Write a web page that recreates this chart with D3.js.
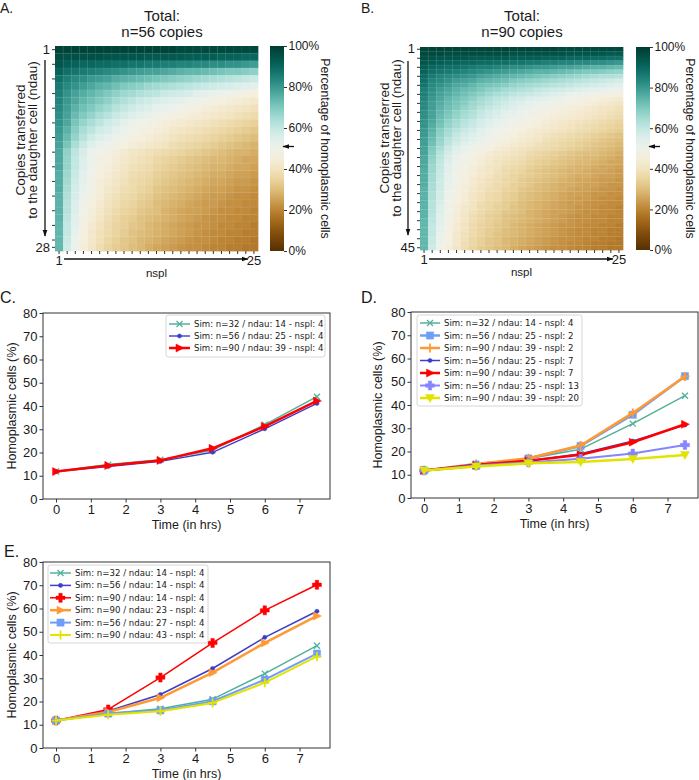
<!DOCTYPE html>
<html><head><meta charset="utf-8">
<script src="https://cdn.jsdelivr.net/npm/d3@7"></script>
<style>
body{margin:0;background:#fff}
svg{display:block}
text{font-family:"Liberation Sans",Arial,sans-serif;fill:#1a1a1a}
.leg text{font-family:"DejaVu Sans",sans-serif}
</style>
</head><body>
<svg id="c" width="699" height="780"></svg>
<script>
// ---------------- DATA ----------------
const heatTitlesA = ["Total:", "n=56 copies"];
const heatTitlesB = ["Total:", "n=90 copies"];
const colorbarTicks = [0, 20, 40, 60, 80, 100];
const yLabelLines = ["Copies transferred", "to the daughter cell (ndau)"];
const cbLabel = "Percentage of homoplasmic cells";

// Panel A: 28 rows (ndau 1..28) x 25 cols (nspl 1..25), % homoplasmic
const heatA = [
[98,98,98,98,98,98,98,98,98,98,98,98,98,98,98,97,97,97,97,97,97,97,97,97,97],
[96,95,95,95,95,95,94,94,94,94,94,93,93,93,93,93,92,92,92,92,91,91,91,90,90],
[94,92,91,90,90,89,89,88,88,87,87,86,86,85,85,84,84,83,83,82,82,81,81,80,79],
[91,88,87,86,85,84,83,82,81,80,79,78,78,77,76,75,74,74,73,72,71,70,70,69,68],
[88,85,83,82,80,79,78,76,75,74,73,72,71,70,69,68,67,66,65,64,63,62,61,60,59],
[86,83,81,79,77,75,74,72,70,69,68,66,65,64,63,62,61,60,59,58,57,56,55,54,53],
[85,81,78,76,74,72,70,68,66,65,63,62,61,59,58,57,56,54,53,52,51,50,48,47,46],
[84,80,77,74,72,70,68,65,63,61,59,58,56,55,54,53,51,50,48,47,46,45,44,43,42],
[83,79,75,72,70,67,65,62,60,58,56,55,53,52,50,49,48,46,45,44,43,42,41,40,39],
[82,78,73,70,67,64,62,59,57,55,53,52,50,49,47,46,45,44,43,42,41,40,39,38,37],
[81,77,71,67,64,61,58,56,53,51,49,48,47,45,44,43,42,41,40,39,38,37,36,35,34],
[80,75,69,64,61,58,56,53,51,49,48,46,45,44,42,41,40,39,38,37,36,35,34,33,32],
[79,73,67,62,58,55,53,51,49,47,46,44,43,42,40,39,38,37,36,35,34,33,32,31,30],
[78,71,64,59,55,52,50,48,46,45,43,42,41,40,38,37,36,35,34,33,32,31,30,29,28],
[77,68,61,56,51,49,47,45,43,41,40,39,38,37,36,35,34,33,32,31,30,29,28,28,27],
[77,67,60,55,51,48,46,44,42,40,39,38,36,35,34,33,32,31,30,29,29,28,27,26,26],
[77,67,60,55,50,47,45,43,41,39,38,37,35,34,33,32,31,30,29,28,28,27,26,26,25],
[76,66,59,54,49,46,44,42,40,38,37,36,34,33,32,31,30,29,28,27,27,26,25,25,24],
[76,65,58,53,48,45,43,41,39,37,36,35,33,32,31,30,29,28,27,26,26,25,24,24,23],
[76,64,57,52,48,45,42,40,38,37,35,34,32,31,30,29,28,27,26,25,25,24,23,23,22],
[75,63,56,51,47,44,41,39,37,36,34,33,31,30,29,28,27,26,25,24,24,23,22,22,21],
[75,62,55,50,46,43,40,38,36,35,33,32,30,29,28,27,26,25,24,24,23,22,22,21,21],
[75,62,55,49,45,42,39,37,35,34,32,31,30,28,27,26,25,25,24,23,22,22,21,21,20],
[75,61,54,48,44,41,38,36,34,33,31,30,29,28,27,26,25,24,23,22,22,21,21,20,20],
[74,60,53,47,43,40,37,35,34,32,31,29,28,27,26,25,24,23,23,22,21,21,20,20,19],
[74,60,52,47,42,39,37,35,33,31,30,29,28,27,26,25,24,23,22,21,21,20,20,19,19],
[74,59,51,46,42,39,36,34,32,31,29,28,27,26,25,24,23,22,22,21,20,20,19,19,18],
[74,58,50,45,41,38,35,33,32,30,29,27,26,25,24,23,22,22,21,20,20,19,19,18,18]
];

// Panel B: 45 rows (ndau 1..45) x 25 cols (nspl 1..25)
const heatB = [
[98,98,98,98,98,98,98,98,98,98,98,98,98,98,98,98,98,97,97,97,97,97,97,97,97],
[97,97,97,96,96,96,96,96,96,96,96,95,95,95,95,95,95,95,94,94,94,94,94,93,93],
[96,95,94,94,94,94,93,93,93,93,93,92,92,92,92,91,91,91,90,90,90,89,89,88,88],
[94,93,92,91,91,90,90,89,89,88,88,87,87,86,86,85,85,84,84,83,83,82,82,81,80],
[92,90,89,88,88,87,86,85,85,84,83,82,82,81,80,80,79,78,78,77,76,75,75,74,73],
[91,88,87,86,85,84,83,82,81,80,79,78,77,76,75,75,74,73,72,71,70,70,69,68,67],
[89,86,84,83,82,81,80,78,77,76,75,74,73,72,71,70,69,68,67,66,65,64,63,63,62],
[88,84,83,81,79,78,77,75,74,73,72,70,69,68,67,66,65,64,63,62,61,60,59,58,57],
[87,83,81,79,77,76,74,72,71,70,69,67,66,65,64,63,62,61,60,59,58,57,56,55,54],
[85,82,79,77,75,73,72,70,68,67,65,64,63,62,60,59,58,57,56,55,54,53,52,51,50],
[85,81,78,76,74,72,70,68,66,64,63,61,60,59,58,56,55,54,52,51,50,49,48,47,46],
[84,80,77,74,72,70,68,65,63,61,60,58,57,55,54,53,52,50,49,48,47,46,45,44,43],
[83,79,76,73,71,69,66,64,62,60,58,56,55,53,52,51,50,48,47,46,45,44,43,42,41],
[83,79,75,72,70,67,65,62,60,58,56,55,53,52,50,49,48,46,45,44,43,42,41,40,39],
[82,78,74,71,68,65,63,60,58,56,54,53,51,50,48,47,46,45,44,43,42,41,40,39,38],
[82,78,73,70,67,64,62,59,57,55,53,51,50,49,47,46,45,44,43,42,41,40,39,38,37],
[81,77,72,68,65,62,60,57,55,53,51,50,48,47,46,44,43,42,41,40,39,38,37,36,35],
[81,76,71,67,64,61,59,56,54,52,50,49,47,46,45,43,42,41,40,39,38,37,36,35,34],
[80,75,69,65,62,59,57,54,52,50,49,47,46,44,43,42,41,40,39,38,37,36,35,34,33],
[80,74,68,64,60,57,55,53,51,49,47,46,44,43,42,40,39,38,37,36,35,34,33,32,31],
[79,73,67,62,59,56,54,52,50,48,46,45,43,42,41,39,38,37,36,35,34,33,32,31,30],
[79,72,66,61,57,54,52,50,48,46,45,43,42,41,39,38,37,36,35,34,33,32,31,30,29],
[78,70,64,59,55,52,50,48,46,44,43,41,40,39,38,37,36,35,34,33,32,31,30,29,28],
[78,69,62,57,53,50,48,46,44,42,41,40,39,37,36,35,34,33,32,31,30,30,29,28,27],
[77,68,61,56,52,49,47,45,43,41,40,39,38,36,35,34,33,32,31,30,29,29,28,27,26],
[77,67,60,55,51,48,46,44,42,40,39,38,37,35,34,33,32,31,30,29,29,28,27,26,26],
[77,66,60,54,50,48,45,43,41,40,38,37,36,34,33,32,31,30,29,28,28,27,26,26,25],
[76,66,59,54,50,47,45,42,41,39,37,36,35,33,32,31,30,29,28,28,27,26,26,25,24],
[76,65,59,53,49,46,44,42,40,38,37,35,34,33,32,31,30,29,28,27,27,26,25,25,24],
[76,65,58,53,49,46,43,41,39,38,36,35,33,32,31,30,29,28,27,26,26,25,24,24,23],
[76,64,58,52,48,45,43,40,39,37,36,34,33,32,30,29,28,27,27,26,25,25,24,23,23],
[75,64,58,52,48,45,42,40,38,37,35,34,32,31,30,29,28,27,26,25,25,24,23,23,22],
[75,63,57,51,47,44,41,39,37,36,34,33,31,30,29,28,27,26,25,25,24,23,23,22,22],
[75,63,57,51,47,44,41,39,37,36,34,33,31,30,29,28,27,26,25,24,24,23,22,22,21],
[75,62,56,50,46,43,40,38,36,35,33,32,30,29,28,27,26,25,24,24,23,22,22,21,21],
[75,62,55,50,45,42,40,37,36,34,33,31,30,29,28,27,26,25,24,23,23,22,21,21,20],
[75,62,55,49,45,42,39,37,35,34,32,31,30,28,27,26,25,25,24,23,22,22,21,21,20],
[75,61,54,48,44,41,38,36,34,33,31,30,29,28,27,26,25,24,23,22,22,21,21,20,20],
[74,61,54,48,44,41,38,36,34,33,31,30,29,28,27,26,25,24,23,22,22,21,21,20,20],
[74,60,53,47,43,40,37,35,34,32,31,29,28,27,26,25,24,23,23,22,21,21,20,20,19],
[74,60,53,47,43,40,37,35,33,32,30,29,28,27,26,25,24,23,22,21,21,20,20,19,19],
[74,60,52,47,42,39,37,35,33,31,30,29,28,27,26,25,24,23,22,21,21,20,20,19,19],
[74,59,51,46,42,39,36,34,32,31,29,28,27,26,25,24,23,22,22,21,20,20,19,19,18],
[74,59,51,46,42,38,36,34,32,31,29,28,27,26,25,24,23,22,21,21,20,19,19,18,18],
[74,58,50,45,41,38,35,33,32,30,29,27,26,25,24,23,22,22,21,20,20,19,19,18,18]
];

// Line panels
const timeHrs = [0, 1.5, 3, 4.5, 6, 7.5];
const xTicks = [0, 1, 2, 3, 4, 5, 6, 7];
const yTicks = [0, 10, 20, 30, 40, 50, 60, 70, 80];

const cLabels = ["Sim: n=32 / ndau: 14 - nspl: 4", "Sim: n=56 / ndau: 25 - nspl: 4", "Sim: n=90 / ndau: 39 - nspl: 4"];
const c_n32 = [11.8, 14.8, 16.9, 21.0, 32.0, 44.0];
const c_n56 = [11.8, 14.0, 16.2, 20.1, 30.2, 41.1];
const c_n90 = [11.8, 14.4, 16.6, 21.8, 31.2, 42.2];

const dLabels = ["Sim: n=32 / ndau: 14 - nspl: 4", "Sim: n=56 / ndau: 25 - nspl: 2", "Sim: n=90 / ndau: 39 - nspl: 2",
  "Sim: n=56 / ndau: 25 - nspl: 7", "Sim: n=90 / ndau: 39 - nspl: 7", "Sim: n=56 / ndau: 25 - nspl: 13", "Sim: n=90 / ndau: 39 - nspl: 20"];
const d_n32_14_4 = [11.8, 14.8, 16.9, 21.0, 32.0, 44.0];
const d_n56_25_2 = [11.8, 13.8, 17.0, 22.4, 35.8, 52.4];
const d_n90_39_2 = [11.8, 14.6, 17.1, 22.6, 36.6, 52.3];
const d_n56_25_7 = [11.8, 14.5, 15.9, 19.0, 24.5, 31.4];
const d_n90_39_7 = [11.8, 14.2, 16.0, 18.6, 24.0, 31.7];
const d_n56_25_13 = [11.8, 14.0, 15.3, 16.9, 19.1, 22.8];
const d_n90_39_20 = [11.8, 13.5, 14.9, 15.5, 16.8, 18.5];

const eLabels = ["Sim: n=32 / ndau: 14 - nspl: 4", "Sim: n=56 / ndau: 14 - nspl: 4", "Sim: n=90 / ndau: 14 - nspl: 4",
  "Sim: n=90 / ndau: 23 - nspl: 4", "Sim: n=56 / ndau: 27 - nspl: 4", "Sim: n=90 / ndau: 43 - nspl: 4"];
const e_n32_14 = [11.8, 14.8, 16.9, 21.0, 32.0, 44.0];
const e_n56_14 = [11.8, 15.9, 23.0, 34.2, 47.6, 58.8];
const e_n90_14 = [11.8, 16.6, 30.3, 45.2, 59.2, 70.2];
const e_n90_23 = [11.8, 15.5, 21.6, 32.4, 45.2, 56.8];
const e_n56_27 = [11.8, 14.8, 16.2, 20.1, 29.4, 40.6];
const e_n90_43 = [11.8, 14.3, 15.8, 19.4, 28.1, 39.4];

// ---------------- STYLES ----------------
const GREEN = "#52b09a", BLUE = "#3d3dcc", RED = "#ff0000", LBLUE = "#6f9ef8",
      ORANGE = "#ff9933", LAV = "#8585ff", YELLOW = "#e3e300";
const FONT = '"Liberation Sans",Arial,sans-serif';

const svg = d3.select("#c");
const defs = svg.append("defs");
defs.append("marker").attr("id", "ah").attr("viewBox", "0 0 10 10").attr("refX", 9).attr("refY", 5)
  .attr("markerWidth", 7).attr("markerHeight", 7).attr("markerUnits", "userSpaceOnUse").attr("orient", "auto")
  .append("path").attr("d", "M0,1.5L10,5L0,8.5Z").attr("fill", "#111");

const brbg = d3.scaleSequential(d3.interpolateBrBG).domain([0, 100]);

function drawHeat(data, titles, L) {
  const g = svg.append("g");
  const nR = data.length, nC = data[0].length;
  const rows = d3.range(1, nR + 1), cols = d3.range(1, nC + 1);
  const x = d3.scaleBand().domain(cols).range([L.x0, L.x1]);
  const y = d3.scaleBand().domain(rows).range([L.y0, L.y1]);
  const cells = [];
  data.forEach((row, ri) => row.forEach((v, ci) => cells.push({r: ri + 1, c: ci + 1, v})));
  g.append("g").selectAll("rect").data(cells).join("rect")
    .attr("x", d => x(d.c)).attr("y", d => y(d.r))
    .attr("width", x.bandwidth() + 0.35).attr("height", y.bandwidth() + 0.35)
    .attr("fill", d => brbg(d.v));
  g.append("g").selectAll("line.v").data(cols.slice(1)).join("line")
    .attr("x1", d => x(d)).attr("x2", d => x(d)).attr("y1", L.y0).attr("y2", L.y1)
    .attr("stroke", "#fff").attr("stroke-opacity", 0.12).attr("stroke-width", 0.6);
  g.append("g").selectAll("line.h").data(rows.slice(1)).join("line")
    .attr("y1", d => y(d)).attr("y2", d => y(d)).attr("x1", L.x0).attr("x2", L.x1)
    .attr("stroke", "#fff").attr("stroke-opacity", 0.12).attr("stroke-width", 0.6);

  const yTickVals = rows.filter(r => r % 2 === 1 || r === nR);
  const ay = g.append("g").attr("transform", `translate(${L.x0},0)`)
    .call(d3.axisLeft(y).tickValues(yTickVals).tickSize(3).tickPadding(2)
      .tickFormat(d => (d === 1 || d === nR) ? d : ""));
  ay.select(".domain").remove();
  ay.selectAll("line").attr("stroke", "#333");
  ay.selectAll("text").attr("font-size", 13).attr("fill", "#1a1a1a").style("font-family", FONT);

  const ax = g.append("g").attr("transform", `translate(0,${L.y1})`)
    .call(d3.axisBottom(x).tickValues(cols).tickSize(3).tickPadding(2)
      .tickFormat(d => (d === 1 || d === nC) ? d : ""));
  ax.select(".domain").remove();
  ax.selectAll("line").attr("stroke", "#333");
  ax.selectAll("text").attr("font-size", 13).attr("fill", "#1a1a1a").style("font-family", FONT);

  g.append("line").attr("x1", L.vArrowX).attr("x2", L.vArrowX).attr("y1", L.y0 + 14).attr("y2", L.y1 - 15)
    .attr("stroke", "#111").attr("stroke-width", 1.3).attr("marker-end", "url(#ah)");
  g.append("line").attr("y1", L.hArrowY).attr("y2", L.hArrowY).attr("x1", x(1) + x.bandwidth() / 2 + 5).attr("x2", x(nC) - 2)
    .attr("stroke", "#111").attr("stroke-width", 1.3).attr("marker-end", "url(#ah)");

  g.append("text").attr("x", (L.x0 + L.x1) / 2).attr("y", L.y1 + 26).attr("text-anchor", "middle")
    .attr("font-size", 11.5).text("nspl");

  yLabelLines.forEach((t, i) => {
    g.append("text").attr("transform", `translate(${L.ylabX + i * 12.5},${L.ylabY}) rotate(-90)`)
      .attr("text-anchor", "middle").attr("dy", "0.35em").attr("font-size", 13.5).text(t);
  });

  titles.forEach((t, i) => {
    g.append("text").attr("x", L.titleX).attr("y", 20.5 + i * 16).attr("text-anchor", "middle")
      .attr("font-size", 15).text(t);
  });

  const gid = "grad" + L.id;
  const grad = defs.append("linearGradient").attr("id", gid).attr("x1", 0).attr("x2", 0).attr("y1", 1).attr("y2", 0);
  d3.range(0, 101, 5).forEach(p => grad.append("stop").attr("offset", p + "%").attr("stop-color", brbg(p)));
  g.append("rect").attr("x", L.cbX).attr("y", L.y0).attr("width", 14).attr("height", L.y1 - L.y0).attr("fill", `url(#${gid})`);
  const cy = d3.scaleLinear().domain([0, 100]).range([L.y1, L.y0]);
  const ac = g.append("g").attr("transform", `translate(${L.cbX + 14},0)`)
    .call(d3.axisRight(cy).tickValues(colorbarTicks).tickSize(3).tickPadding(1.5).tickFormat(d => d + "%"));
  ac.select(".domain").remove();
  ac.selectAll("line").attr("stroke", "#333");
  ac.selectAll("text").attr("font-size", 12).attr("fill", "#1a1a1a").style("font-family", FONT);
  g.append("line").attr("x1", L.cbX + 24).attr("x2", L.cbX + 13).attr("y1", cy(50) - 2).attr("y2", cy(50) - 2)
    .attr("stroke", "#111").attr("stroke-width", 1.3).attr("marker-end", "url(#ah)");
  g.append("text").attr("transform", `translate(${L.cbLabX},${(L.y0 + L.y1) / 2}) rotate(90)`)
    .attr("text-anchor", "middle").attr("dy", "0.35em").attr("font-size", 12.3).text(cbLabel);

  g.append("text").attr("x", L.panelX).attr("y", 13).attr("font-size", 14).text(L.panel);
}

drawHeat(heatA, heatTitlesA, {id: "A", panel: "A.", panelX: 0, x0: 55, x1: 258, y0: 46, y1: 251,
  vArrowX: 45, hArrowY: 259, ylabX: 20, ylabY: 140, titleX: 162, cbX: 270, cbLabX: 325});
drawHeat(heatB, heatTitlesB, {id: "B", panel: "B.", panelX: 361, x0: 420, x1: 623, y0: 47, y1: 250,
  vArrowX: 408, hArrowY: 259, ylabX: 384, ylabY: 138, titleX: 522, cbX: 636, cbLabX: 690});

function markerPath(type) {
  switch (type) {
    case "x": return {d: "M-3,-3L3,3M-3,3L3,-3", fill: false, sw: 1.3};
    case ".": return {d: "M2.1,0A2.1,2.1 0 1,1 -2.1,0A2.1,2.1 0 1,1 2.1,0Z", fill: true};
    case ">": return {d: "M4.5,0L-3.5,-4L-3.5,4Z", fill: true};
    case "v": return {d: "M0,4.5L-4.5,-3.5L4.5,-3.5Z", fill: true};
    case "s": return {d: "M-3.6,-3.6H3.6V3.6H-3.6Z", fill: true};
    case "+": return {d: "M-4.5,0H4.5M0,-4.5V4.5", fill: false, sw: 1.8};
    case "P": return {d: "M-1.7,-4.5H1.7V-1.7H4.5V1.7H1.7V4.5H-1.7V1.7H-4.5V-1.7H-1.7Z", fill: true};
  }
}
function addMarker(g, type, color, px, py) {
  const m = markerPath(type);
  g.append("path").attr("d", m.d).attr("transform", `translate(${px},${py})`)
    .attr("fill", m.fill ? color : "none").attr("stroke", color).attr("stroke-width", m.fill ? 0.5 : m.sw);
}

function drawLines(P) {
  const g = svg.append("g");
  const x = d3.scaleLinear().domain([-0.375, 7.875]).range([P.x0, P.x1]);
  const y = d3.scaleLinear().domain([0, 80]).range([P.y1, P.y0]);
  const line = d3.line().x((d, i) => x(timeHrs[i])).y(d => y(d));
  P.series.forEach(s => {
    g.append("path").attr("d", line(s.values)).attr("fill", "none").attr("stroke", s.color)
      .attr("stroke-width", s.lw).attr("stroke-linejoin", "round");
    s.values.forEach((v, i) => addMarker(g, s.marker, s.color, x(timeHrs[i]), y(v)));
  });
  g.append("rect").attr("x", P.x0).attr("y", P.y0).attr("width", P.x1 - P.x0).attr("height", P.y1 - P.y0)
    .attr("fill", "none").attr("stroke", "#333").attr("stroke-width", 1);
  const ax = g.append("g").attr("transform", `translate(0,${P.y1})`)
    .call(d3.axisBottom(x).tickValues(xTicks).tickSize(3.5).tickPadding(2));
  const ay = g.append("g").attr("transform", `translate(${P.x0},0)`)
    .call(d3.axisLeft(y).tickValues(yTicks).tickSize(3.5).tickPadding(2));
  [ax, ay].forEach(a => {
    a.select(".domain").remove();
    a.selectAll("line").attr("stroke", "#333");
    a.selectAll("text").attr("font-size", 13).attr("fill", "#1a1a1a").style("font-family", FONT);
  });
  g.append("text").attr("x", (P.x0 + P.x1) / 2).attr("y", P.xlabY).attr("text-anchor", "middle")
    .attr("font-size", 12.5).text("Time (in hrs)");
  g.append("text").attr("transform", `translate(${P.ylabX},${(P.y0 + P.y1) / 2}) rotate(-90)`)
    .attr("text-anchor", "middle").attr("dy", "0.35em").attr("font-size", 12.5).text("Homoplasmic cells (%)");

  const L = P.legend;
  const lg = g.append("g").attr("class", "leg");
  lg.append("rect").attr("x", L.x).attr("y", L.y).attr("width", L.w).attr("height", L.h).attr("rx", 2.5)
    .attr("fill", "#fff").attr("fill-opacity", 0.85).attr("stroke", "#d6d6d6").attr("stroke-width", 1);
  P.series.forEach((s, i) => {
    const yy = L.y0 + i * L.dy;
    lg.append("line").attr("x1", L.lx0).attr("x2", L.lx1).attr("y1", yy).attr("y2", yy)
      .attr("stroke", s.color).attr("stroke-width", s.lw);
    addMarker(lg, s.marker, s.color, (L.lx0 + L.lx1) / 2, yy);
    lg.append("text").attr("x", L.tx).attr("y", yy).attr("dy", "0.35em").attr("font-size", 8.6).text(s.label);
  });
  g.append("text").attr("x", P.panelX).attr("y", P.panelY).attr("font-size", 16).text(P.panel);
}

drawLines({panel: "C.", panelX: 0, panelY: 303, x0: 43, x1: 330, y0: 313, y1: 499, xlabY: 529, ylabX: 12,
  series: [
    {label: cLabels[0], values: c_n32, color: GREEN, marker: "x", lw: 1.5},
    {label: cLabels[1], values: c_n56, color: BLUE, marker: ".", lw: 1.4},
    {label: cLabels[2], values: c_n90, color: RED, marker: ">", lw: 2.5}],
  legend: {x: 166, y: 315, w: 159, h: 42, y0: 324, dy: 12, lx0: 169, lx1: 190, tx: 194}});

drawLines({panel: "D.", panelX: 361, panelY: 303, x0: 411, x1: 698, y0: 312, y1: 498, xlabY: 528, ylabX: 378,
  series: [
    {label: dLabels[0], values: d_n32_14_4, color: GREEN, marker: "x", lw: 1.5},
    {label: dLabels[1], values: d_n56_25_2, color: LBLUE, marker: "s", lw: 2.5},
    {label: dLabels[2], values: d_n90_39_2, color: ORANGE, marker: "+", lw: 2.5},
    {label: dLabels[3], values: d_n56_25_7, color: BLUE, marker: ".", lw: 1.5},
    {label: dLabels[4], values: d_n90_39_7, color: RED, marker: ">", lw: 2.5},
    {label: dLabels[5], values: d_n56_25_13, color: LAV, marker: "P", lw: 2},
    {label: dLabels[6], values: d_n90_39_20, color: YELLOW, marker: "v", lw: 2.5}],
  legend: {x: 417, y: 315, w: 165, h: 91, y0: 323, dy: 12.5, lx0: 420, lx1: 440, tx: 444}});

drawLines({panel: "E.", panelX: 4, panelY: 557, x0: 43, x1: 330, y0: 562, y1: 748, xlabY: 778, ylabX: 12,
  series: [
    {label: eLabels[0], values: e_n32_14, color: GREEN, marker: "x", lw: 1.5},
    {label: eLabels[1], values: e_n56_14, color: BLUE, marker: ".", lw: 1.5},
    {label: eLabels[2], values: e_n90_14, color: RED, marker: "P", lw: 1.5},
    {label: eLabels[3], values: e_n90_23, color: ORANGE, marker: ">", lw: 2.5},
    {label: eLabels[4], values: e_n56_27, color: LBLUE, marker: "s", lw: 2},
    {label: eLabels[5], values: e_n90_43, color: YELLOW, marker: "+", lw: 2}],
  legend: {x: 48, y: 565, w: 160, h: 78, y0: 573, dy: 12.4, lx0: 50, lx1: 71, tx: 75}});
</script>
</body></html>
